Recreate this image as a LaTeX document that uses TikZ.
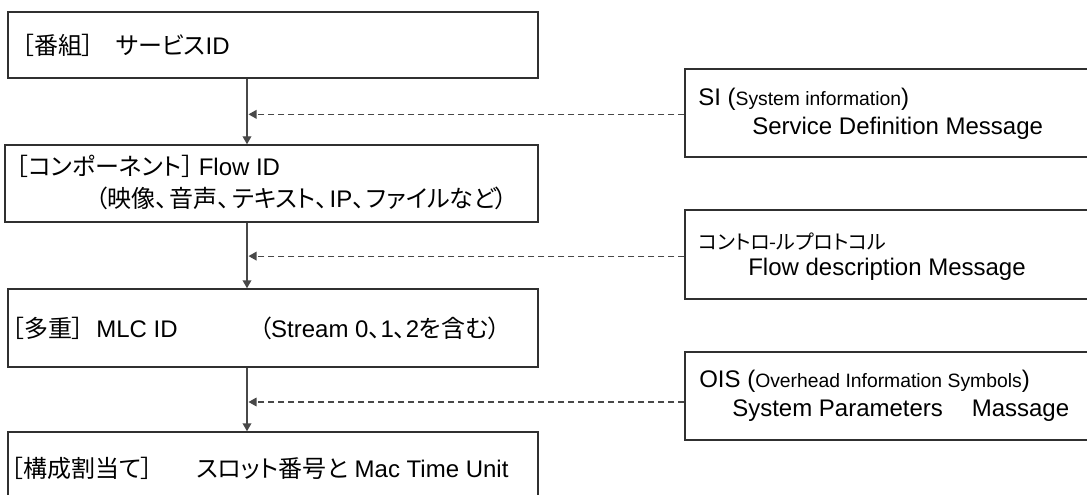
\documentclass[tikz,border=0pt]{standalone}
\usepackage{fontspec}
\setmainfont{Liberation Sans}
\newfontfamily\jp[RawFeature=+palt]{Noto Sans CJK JP}
\usetikzlibrary{arrows.meta}
\definecolor{boxc}{HTML}{303030}
\definecolor{linec}{HTML}{484848}
\begin{document}
\begin{tikzpicture}[x=0.75pt,y=-0.75pt,
  box/.style={draw=boxc,line width=1.1pt,inner sep=0pt,rectangle},
  txt/.style={anchor=west,inner sep=0pt,font=\fontsize{18}{21}\selectfont},
  flow/.style={draw=linec,line width=1.1pt,-{Triangle[length=6pt,width=6.5pt]}},
  feed/.style={draw=linec,line width=0.9pt,dash pattern=on 4.5pt off 3pt,-{Triangle[length=6pt,width=6.5pt]}}
]
\useasboundingbox (0,0) rectangle (1087,495);

% left boxes
\node[box,minimum width=397.5pt,minimum height=49.5pt] (b1) at (273,45) {};
\node[box,minimum width=399.75pt,minimum height=57.75pt] (b2) at (271.5,183.5) {};
\node[box,minimum width=397.5pt,minimum height=58.5pt] (b3) at (273,328) {};
\node[box,minimum width=397.5pt,minimum height=66pt] (b4) at (273,476) {};

% right boxes
\node[box,minimum width=311.25pt,minimum height=66pt] (s1) at (892.5,113) {};
\node[box,minimum width=311.25pt,minimum height=66.75pt] (s2) at (892.5,254.5) {};
\node[box,minimum width=311.25pt,minimum height=66pt] (s3) at (892.5,396) {};

% texts in left boxes
\node[txt] (t1) at (22,45) {{\jp ［番組］\hspace{0.9em}サービス}ID};
\node[txt] (t2a) at (16,166) {{\jp ［コンポーネント］}\hspace{0.2em}Flow ID};
\node[txt] (t2b) at (95,198) {{\jp （映像、\hspace{0.1em}音声、\hspace{0.1em}テキスト、\hspace{0.1em}}IP{\jp 、\hspace{0.1em}ファイルなど）}};
\node[txt] (t3) at (12,328) {{\jp ［多重］}\hspace{0.5em}MLC ID\hspace{3.4em}{\jp （}Stream 0{\jp 、}1{\jp 、}2{\jp を含む）}};
\node[txt] (t4) at (11,468) {{\jp ［構成割当て］}\hspace{1.8em}{\jp スロット番号と} Mac Time Unit};

% texts in right boxes
\node[txt] (u1a) at (698,99) {SI ({\fontsize{14.5}{17}\selectfont System information})};
\node[txt] (u1b) at (752,128) {Service Definition Message};
\node[txt] (u2a) at (698,242) {\jp\fontsize{15}{18}\selectfont コントロ-ルプロトコル};
\node[txt] (u2b) at (748,269) {Flow description Message};
\node[txt] (u3a) at (699,381) {OIS ({\fontsize{14.5}{17}\selectfont Overhead Information Symbols})};
\node[txt] (u3b) at (732,411) {System Parameters\hspace{1.2em}Massage};

% connectors
\coordinate (ax) at (247,0);
\coordinate (axr) at (248.5,0);
\draw[flow] (b1.south -| ax) -- (b2.north -| ax);
\draw[flow] (b2.south -| ax) -- (b3.north -| ax);
\draw[flow] (b3.south -| ax) -- (b4.north -| ax);

\path ([yshift=-1pt]s1.west) coordinate (f1);
\path ([yshift=-1.2pt]s2.west) coordinate (f2);
\path ([yshift=-4.5pt]s3.west) coordinate (f3);
\draw[feed] (f1) -- (f1 -| axr);
\draw[feed] (f2) -- (f2 -| axr);
\draw[feed] (f3) -- (f3 -| axr);
\end{tikzpicture}
\end{document}
